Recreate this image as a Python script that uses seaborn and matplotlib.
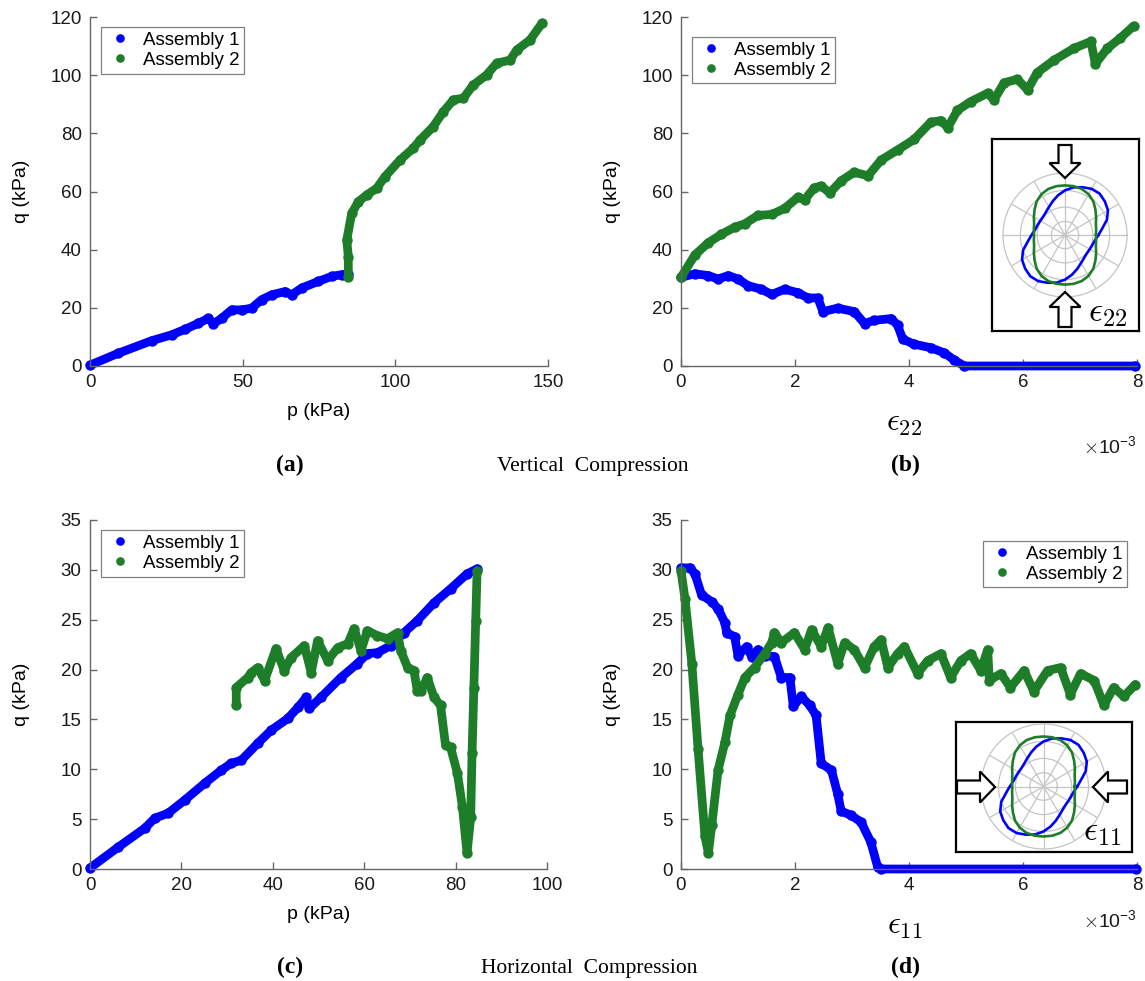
import numpy as np
import pandas as pd
import matplotlib
matplotlib.use("Agg")
import matplotlib.pyplot as plt
import seaborn as sns
from matplotlib.lines import Line2D
from matplotlib.patches import FancyArrow

# ---------------- data ----------------
# (a) vertical compression, q vs p
a1_p = [0, 9.3, 20.2, 26.7, 31.1, 35.5, 38.8, 40.4, 43.1, 46.4, 49.7, 53.0, 56.2, 59.6, 63.9, 66.1, 69.3, 74.8, 79.1, 82.4, 84.6]
a1_q = [0.3, 4.4, 8.7, 10.7, 12.6, 14.7, 16.4, 14.5, 16.4, 19.3, 19.3, 19.9, 22.8, 24.5, 25.6, 24.5, 26.8, 29.1, 30.8, 31.4, 31.5]
a2_p = [84.6, 84.6, 84.1, 85.7, 87.9, 90.6, 93.9, 96.6, 101.5, 105.9, 108.1, 112.4, 115.7, 119.0, 122.3, 125.5, 129.9, 133.2, 137.6, 139.8, 144.1, 148.0]
a2_q = [30.7, 37.6, 43.3, 52.5, 56.5, 58.8, 61.1, 65.1, 70.8, 74.9, 77.7, 82.3, 87.4, 91.5, 92.1, 96.6, 100.1, 104.1, 105.2, 108.7, 112.1, 117.8]

# (b) vertical compression, q vs eps22 (x1e-3)
b1_e = [0, 0.245, 0.48, 0.65, 0.83, 1.0, 1.18, 1.41, 1.59, 1.82, 2.05, 2.23, 2.40, 2.49, 2.75, 3.04, 3.22, 3.39, 3.69, 3.80, 3.89, 4.09, 4.38, 4.62, 4.79, 4.97, 7.97]
b1_q = [30.5, 31.7, 31.1, 29.9, 31.1, 29.9, 27.6, 26.4, 24.6, 26.4, 25.2, 23.4, 23.4, 18.7, 19.9, 18.7, 14.6, 15.7, 16.3, 14.0, 9.2, 7.5, 6.3, 4.5, 2.1, 0.0, 0.0]
b2_e = [0, 0.245, 0.48, 0.71, 0.94, 1.12, 1.35, 1.59, 1.82, 2.05, 2.17, 2.34, 2.46, 2.61, 2.81, 3.04, 3.28, 3.51, 3.80, 4.09, 4.38, 4.56, 4.68, 4.85, 5.08, 5.38, 5.49, 5.67, 5.90, 6.08, 6.25, 6.54, 6.89, 7.19, 7.27, 7.48, 7.71, 7.94]
b2_q = [30.5, 38.2, 42.4, 45.3, 47.7, 48.9, 51.8, 52.1, 54.2, 58.0, 57.2, 61.3, 61.9, 59.5, 63.7, 66.6, 65.4, 70.8, 74.3, 77.9, 83.8, 84.4, 82.0, 87.9, 90.9, 93.8, 91.5, 97.4, 98.6, 95.0, 100.9, 105.1, 109.2, 111.6, 103.9, 109.2, 112.8, 116.9]

# (c) horizontal compression, q vs p
c1_p = [0, 6.2, 12.0, 14.2, 17.1, 20.7, 25.1, 28.7, 30.9, 33.1, 36.7, 39.6, 43.3, 45.5, 47.3, 48.0, 50.5, 54.9, 58.5, 60.7, 62.9, 65.8, 68.7, 71.6, 75.3, 78.9, 82.5, 84.7]
c1_q = [0.1, 2.2, 4.1, 5.1, 5.6, 6.9, 8.6, 9.9, 10.6, 10.9, 12.6, 13.9, 15.1, 16.2, 17.2, 16.1, 17.2, 19.2, 20.6, 21.6, 21.7, 22.4, 23.7, 24.9, 26.7, 28.1, 29.6, 30.1]
c2_p = [32.0, 32.0, 34.5, 35.3, 36.7, 38.2, 40.7, 42.5, 44.0, 46.9, 48.4, 49.8, 52.0, 54.2, 56.4, 57.8, 59.3, 60.7, 62.9, 65.1, 67.3, 68.0, 69.5, 70.9, 71.6, 72.4, 73.8, 75.3, 76.7, 77.8, 78.9, 80.4, 81.5, 82.5, 83.3, 83.6, 84.0, 84.4, 84.7]
c2_q = [16.4, 18.2, 19.2, 19.7, 20.2, 18.9, 22.1, 19.9, 21.2, 22.4, 19.7, 22.9, 20.9, 22.2, 22.6, 24.1, 21.9, 23.9, 23.4, 23.1, 23.7, 21.9, 20.2, 19.9, 17.9, 17.9, 19.2, 17.2, 16.4, 12.4, 12.2, 9.6, 6.2, 1.6, 5.2, 11.6, 18.2, 24.9, 29.9]

# (d) horizontal compression, q vs eps11 (x1e-3)
d1_e = [0, 0.16, 0.245, 0.36, 0.54, 0.65, 0.77, 0.80, 0.94, 1.0, 1.15, 1.24, 1.35, 1.47, 1.64, 1.76, 1.91, 1.97, 2.11, 2.26, 2.37, 2.46, 2.64, 2.75, 2.81, 2.98, 3.16, 3.33, 3.45, 3.51, 7.98]
d1_q = [30.2, 30.2, 29.6, 27.5, 26.8, 26.1, 24.7, 23.7, 23.3, 21.4, 22.3, 21.3, 22.0, 21.4, 21.3, 19.2, 19.2, 16.3, 17.3, 16.4, 15.4, 10.6, 9.9, 7.5, 5.8, 5.4, 4.7, 2.7, 0.2, 0.0, 0.0]
d2_e = [0, 0.07, 0.19, 0.30, 0.42, 0.48, 0.54, 0.65, 0.77, 0.86, 1.0, 1.12, 1.29, 1.47, 1.59, 1.64, 1.76, 1.99, 2.17, 2.29, 2.46, 2.58, 2.75, 2.87, 3.04, 3.22, 3.39, 3.51, 3.63, 3.80, 3.92, 4.15, 4.33, 4.56, 4.73, 4.91, 5.08, 5.26, 5.38, 5.41, 5.61, 5.78, 6.02, 6.19, 6.43, 6.66, 6.83, 7.01, 7.25, 7.42, 7.59, 7.77, 7.97]
d2_q = [29.9, 27.1, 20.6, 12.0, 3.3, 1.6, 4.4, 9.9, 12.7, 15.4, 17.5, 19.2, 20.2, 21.6, 22.7, 23.7, 22.7, 23.7, 22.0, 24.0, 22.3, 24.2, 20.6, 22.7, 22.0, 20.2, 22.3, 23.0, 20.2, 21.6, 22.3, 19.6, 20.9, 21.6, 19.2, 20.9, 21.6, 19.9, 22.0, 18.9, 19.6, 18.2, 19.9, 17.8, 19.9, 20.2, 17.5, 19.6, 18.9, 16.4, 18.2, 17.3, 18.5]

# polar insets: normalised radius at angles 0..170 deg (curves are point-symmetric)
polar_deg_half = [0, 10, 20, 30, 40, 50, 60, 70, 80, 90, 100, 110, 120, 130, 140, 150, 160, 170]
polar_r1_half = [0.54, 0.61, 0.72, 0.80, 0.84, 0.87, 0.86, 0.82, 0.78, 0.72, 0.65, 0.58, 0.52, 0.48, 0.46, 0.46, 0.47, 0.49]
polar_r2_half = [0.50, 0.51, 0.53, 0.58, 0.64, 0.71, 0.76, 0.79, 0.80, 0.80, 0.80, 0.79, 0.76, 0.71, 0.64, 0.58, 0.53, 0.51]
polar_rings = [0.22, 0.45, 0.72]

series_names = ["Assembly 1", "Assembly 2"]
BLUE = "#0000ff"
GREEN = "#1e7d28"
colors = [BLUE, GREEN]

# ---------------- style ----------------
plt.rcParams["font.family"] = ["Liberation Sans", "DejaVu Sans"]
plt.rcParams["mathtext.fontset"] = "cm"
AXC = "#666666"
TXT = "#1a1a1a"

W, H = 1145, 981
fig = plt.figure(figsize=(W / 100, H / 100), dpi=100)


def px_axes(l, t, r, b, **kw):
    return fig.add_axes([l / W, 1 - b / H, (r - l) / W, (b - t) / H], **kw)


def style_axes(ax, xlim, ylim, xticks, yticks):
    ax.set_xlim(*xlim)
    ax.set_ylim(*ylim)
    ax.set_xticks(xticks)
    ax.set_yticks(yticks)
    for s in ["top", "right"]:
        ax.spines[s].set_visible(False)
    for s in ["left", "bottom"]:
        ax.spines[s].set_color(AXC)
        ax.spines[s].set_linewidth(1.0)
    ax.tick_params(direction="in", length=5, width=1.0, color=AXC,
                   labelcolor=TXT, labelsize=13.5, pad=6)
    ax.set_facecolor("white")


def draw_series(ax, xs, ys, color):
    df = pd.DataFrame({"x": xs, "y": ys})
    sns.lineplot(data=df, x="x", y="y", ax=ax, sort=False, estimator=None,
                 color=color, linewidth=6.3, marker="o", markersize=7.5,
                 markeredgewidth=0, solid_joinstyle="round",
                 solid_capstyle="round", clip_on=False, legend=False)


def add_legend(ax, loc, anchor):
    handles = [Line2D([], [], ls="none", marker="o", markersize=5.2,
                      color=c) for c in colors]
    leg = ax.legend(handles, series_names, loc=loc, bbox_to_anchor=anchor,
                    fontsize=13.5, frameon=True, fancybox=False, framealpha=1,
                    edgecolor="#808080", borderpad=0.25, labelspacing=0.15,
                    handletextpad=0.5, handlelength=1.5, borderaxespad=0)
    leg.get_frame().set_linewidth(0.9)
    for t in leg.get_texts():
        t.set_color("black")


ax_a = px_axes(90, 17, 548, 366)
ax_b = px_axes(681, 17, 1137, 366)
ax_c = px_axes(90, 520, 547, 869)
ax_d = px_axes(681, 520, 1137, 869)

draw_series(ax_a, a1_p, a1_q, BLUE)
draw_series(ax_a, a2_p, a2_q, GREEN)
draw_series(ax_b, b1_e, b1_q, BLUE)
draw_series(ax_b, b2_e, b2_q, GREEN)
draw_series(ax_c, c1_p, c1_q, BLUE)
draw_series(ax_c, c2_p, c2_q, GREEN)
draw_series(ax_d, d1_e, d1_q, BLUE)
draw_series(ax_d, d2_e, d2_q, GREEN)

style_axes(ax_a, (0, 150), (0, 120), [0, 50, 100, 150], range(0, 121, 20))
style_axes(ax_b, (0, 8), (0, 120), range(0, 9, 2), range(0, 121, 20))
style_axes(ax_c, (0, 100), (0, 35), range(0, 101, 20), range(0, 36, 5))
style_axes(ax_d, (0, 8), (0, 35), range(0, 9, 2), range(0, 36, 5))

for ax in [ax_a, ax_b, ax_c, ax_d]:
    ax.set_ylabel("q (kPa)", fontsize=14, color="black")
    ax.yaxis.set_label_coords(-0.132, 0.5)
for ax in [ax_a, ax_c]:
    ax.set_xlabel("p (kPa)", fontsize=14, color="black")
    ax.xaxis.set_label_coords(0.5, -0.129)
    ax.xaxis.label.set_va("center")
ax_b.set_xlabel(r"$\epsilon_{22}$", fontsize=23, color="black")
ax_d.set_xlabel(r"$\epsilon_{11}$", fontsize=23, color="black")
for ax in [ax_b, ax_d]:
    ax.xaxis.set_label_coords(0.49, -0.163)
    ax.xaxis.label.set_va("center")

add_legend(ax_a, "upper left", (0.024, 0.971))
add_legend(ax_b, "upper left", (0.024, 0.943))
add_legend(ax_c, "upper left", (0.024, 0.971))
add_legend(ax_d, "upper right", (0.978, 0.940))

# ---------------- polar insets ----------------
theta_full = np.deg2rad(polar_deg_half + [d + 180 for d in polar_deg_half] + [polar_deg_half[0] + 360])


def inset(box, pol):
    bx = px_axes(*box, zorder=5)
    bx.set_xticks([])
    bx.set_yticks([])
    bx.set_facecolor("white")
    for s in bx.spines.values():
        s.set_color("black")
        s.set_linewidth(1.6)
    pa = px_axes(*pol, projection="polar", zorder=6)
    pa.set_facecolor("none")
    r1 = polar_r1_half + polar_r1_half + [polar_r1_half[0]]
    r2 = polar_r2_half + polar_r2_half + [polar_r2_half[0]]
    sns.lineplot(x=theta_full, y=r1, ax=pa, sort=False, estimator=None,
                 color=BLUE, linewidth=1.9)
    sns.lineplot(x=theta_full, y=r2, ax=pa, sort=False, estimator=None,
                 color=GREEN, linewidth=1.9)
    pa.set_ylim(0, 1)
    pa.set_yticks(polar_rings)
    pa.set_xticks(np.deg2rad(range(0, 360, 30)))
    pa.set_xticklabels([])
    pa.set_yticklabels([])
    pa.set_xlabel("")
    pa.set_ylabel("")
    pa.grid(True, color="#c4c4c4", linewidth=0.9)
    pa.spines["polar"].set_color("#c4c4c4")
    pa.spines["polar"].set_linewidth(0.9)
    return bx, pa


inset((992, 139, 1139, 331), (1003, 173, 1127, 297))
inset((956, 722, 1132, 852), (981, 724, 1106, 849))

# ---------------- overlay: arrows, captions ----------------
ov = fig.add_axes([0, 0, 1, 1], zorder=20)
ov.set_xlim(0, W)
ov.set_ylim(H, 0)
ov.axis("off")
ov.patch.set_alpha(0)

arrow_kw = dict(width=13, head_width=31, head_length=15, length_includes_head=True,
                fc="white", ec="black", lw=1.6, joinstyle="miter")
ov.add_patch(FancyArrow(1065, 145, 0, 33, **arrow_kw))
ov.add_patch(FancyArrow(1065, 327, 0, -35, **arrow_kw))
ov.add_patch(FancyArrow(957, 787, 38, 0, **arrow_kw))
ov.add_patch(FancyArrow(1127, 787, -34, 0, **arrow_kw))

ov.text(1108, 312, r"$\epsilon_{22}$", fontsize=25, ha="center", va="center")
ov.text(1102, 832, r"$\epsilon_{11}$", fontsize=25, ha="center", va="center")

ov.text(1137, 446, r"$\times\mathregular{10^{-3}}$", fontsize=14, ha="right", va="center", color=TXT)
ov.text(1137, 920, r"$\times\mathregular{10^{-3}}$", fontsize=14, ha="right", va="center", color=TXT)

serif = ["Liberation Serif", "DejaVu Serif"]
ov.text(290, 465, "(a)", fontsize=17, fontweight="bold", family=serif, ha="center", va="center")
ov.text(593, 466, "Vertical  Compression", fontsize=15.5, family=serif, ha="center", va="center")
ov.text(905, 465, "(b)", fontsize=17, fontweight="bold", family=serif, ha="center", va="center")
ov.text(290, 967, "(c)", fontsize=17, fontweight="bold", family=serif, ha="center", va="center")
ov.text(589, 968, "Horizontal  Compression", fontsize=15.5, family=serif, ha="center", va="center")
ov.text(905, 967, "(d)", fontsize=17, fontweight="bold", family=serif, ha="center", va="center")

fig.savefig("out.png", dpi=100)
